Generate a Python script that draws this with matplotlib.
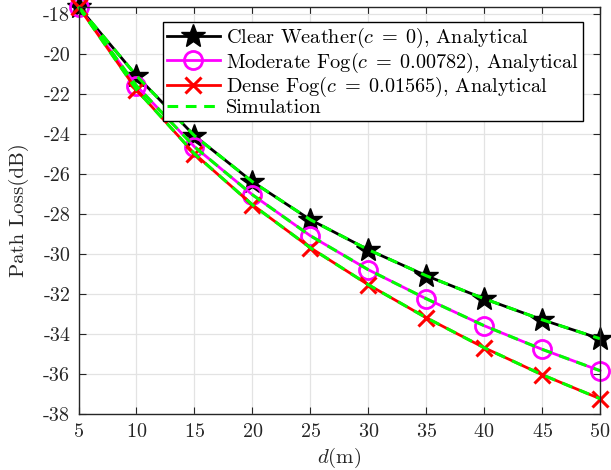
import matplotlib
matplotlib.use("Agg")
import matplotlib.pyplot as plt

# distances (m) and path loss (dB)
d = [5, 10, 15, 20, 25, 30, 35, 40, 45, 50]
clear = [-17.65, -21.1, -24.1, -26.4, -28.3, -29.8, -31.1, -32.25, -33.3, -34.25]
moderate = [-17.65, -21.6, -24.65, -27.05, -29.1, -30.8, -32.25, -33.6, -34.78, -35.85]
dense = [-17.65, -21.8, -25.0, -27.55, -29.7, -31.55, -33.2, -34.7, -36.05, -37.25]

labels = [r'Clear Weather($c\;=\;0$), Analytical',
          r'Moderate Fog($c\;=\;0.00782$), Analytical',
          r'Dense Fog($c\;=\;0.01565$), Analytical',
          'Simulation']

plt.rcParams['font.family'] = 'serif'
plt.rcParams['font.serif'] = ['cmr10']
plt.rcParams['mathtext.fontset'] = 'cm'
plt.rcParams['axes.unicode_minus'] = False
plt.rcParams['axes.formatter.use_mathtext'] = True

fig = plt.figure(figsize=(6.11, 4.70), dpi=100)
ax = fig.add_axes([0.1285, 0.1198, 0.8535, 0.8659])

dark = '#262626'
h1, = ax.plot(d, clear, color='k', lw=2, marker='*', ms=18, clip_on=False)
h2, = ax.plot(d, moderate, color='magenta', lw=2, marker='o', ms=13,
              mfc='none', mew=2, clip_on=False)
h3, = ax.plot(d, dense, color='red', lw=2, marker='x', ms=11, mew=2.2,
              clip_on=False)
for s in (clear, moderate, dense):
    hs, = ax.plot(d, s, color='#00ff00', lw=2.2, ls=(0, (3.5, 2.5)), clip_on=False)

ax.set_xlim(5, 50)
ax.set_ylim(-38, -17.65)
ax.set_xticks(range(5, 51, 5))
ax.set_yticks(range(-38, -17, 2))
ax.set_yticklabels([str(v) for v in range(-38, -17, 2)])
ax.grid(True, color='#e3e3e3', lw=0.9)
ax.set_axisbelow(True)
ax.tick_params(direction='in', top=True, right=True, labelsize=14.5,
               colors=dark, length=5)
ax.tick_params(axis='x', pad=7)
ax.tick_params(axis='y', pad=6)
for sp in ax.spines.values():
    sp.set_color(dark)
    sp.set_linewidth(1.0)

ax.set_xlabel(r'$d$(m)', fontsize=15, color=dark, labelpad=3)
ax.set_ylabel('Path Loss(dB)', fontsize=15, color=dark, labelpad=10)

leg = ax.legend([h1, h2, h3, hs], labels, loc='upper right',
                bbox_to_anchor=(0.967, 0.962), fontsize=14.6, fancybox=False,
                framealpha=1, edgecolor='k', handlelength=2.6,
                borderpad=0.2, labelspacing=0.0, handletextpad=0.3,
                borderaxespad=0)
leg.get_frame().set_linewidth(1.0)

fig.savefig('out.png', dpi=100)
